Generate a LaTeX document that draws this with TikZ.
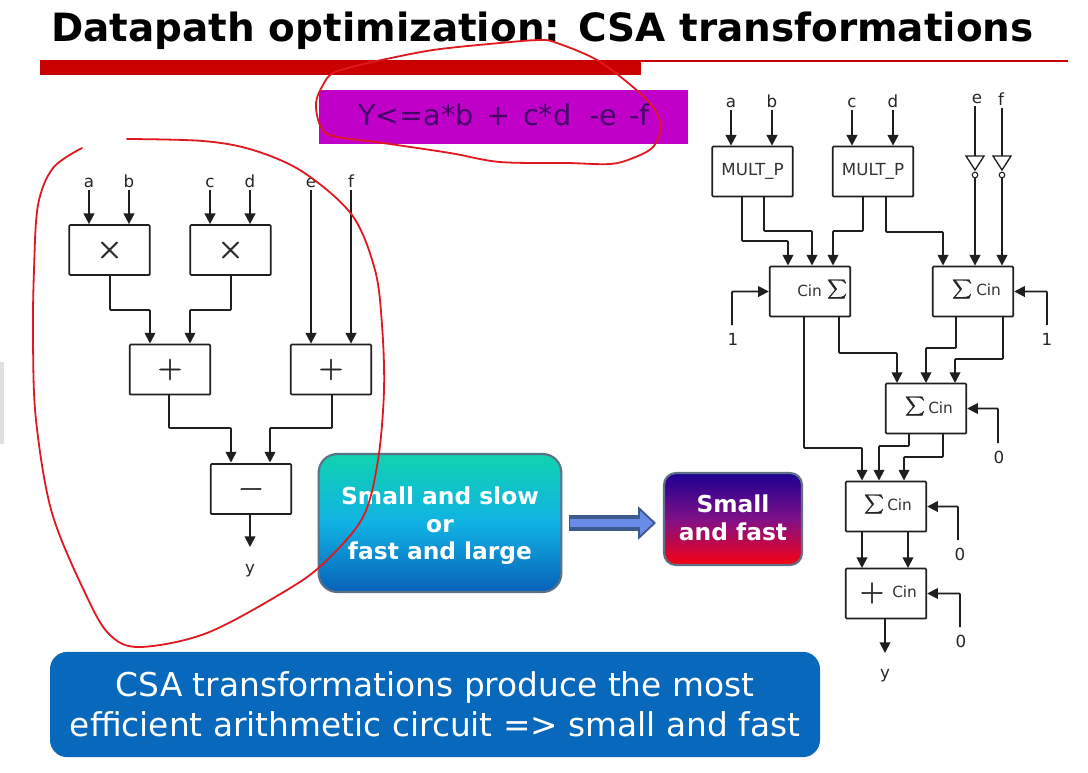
\documentclass[tikz,border=0pt]{standalone}
\usepackage{fontspec}
\setmainfont{DejaVu Sans}
\usetikzlibrary{arrows.meta,calc}
\definecolor{barred}{HTML}{C80000}
\definecolor{inkred}{HTML}{E01820}
\definecolor{mag}{HTML}{C000C8}
\definecolor{magtxt}{HTML}{45006A}
\definecolor{blueb}{HTML}{0868BC}
\definecolor{edgeg}{HTML}{5E7085}
\definecolor{aT}{HTML}{10D2B0}
\definecolor{aM}{HTML}{10B2E4}
\definecolor{aB}{HTML}{0860B8}
\definecolor{bT}{HTML}{1C0090}
\definecolor{bM}{HTML}{801088}
\definecolor{bB}{HTML}{F80010}
\definecolor{arD}{HTML}{3C5A8C}
\definecolor{arL}{HTML}{6A8CE8}
\newcommand{\heavy}[2]{\special{pdf:code 2 Tr #1 w}#2\special{pdf:code 0 Tr 1 w}}
\tikzset{
 wire/.style={draw=black!88,line width=1.3pt,rounded corners=0.6pt},
 arr/.style={wire,-{Triangle[length=8pt,width=8pt]}},
 blk/.style={draw=black!88,line width=1.3pt,fill=white,rounded corners=0.8pt,minimum width=60.5pt,minimum height=37.5pt,inner sep=0pt},
 sm/.style={font=\fontsize{11.5}{12}\selectfont,text=black!80,inner sep=0pt},
 multx/.style={font=\fontsize{12.5}{12}\selectfont,text=black!80,inner sep=0pt},
 lbl/.style={font=\fontsize{12.5}{12}\selectfont,text=black!85,inner sep=0pt,text height=9pt,text depth=0pt},
 sigma/.style={inner sep=0pt,font=\fontsize{10}{12}\selectfont,text=black!85},
 op/.style={inner sep=0pt,font=\fontsize{23}{24}\selectfont,text=black!85},
 ink/.style={draw=inkred,line width=1.35pt,line cap=round,line join=round},
 bt/.style={text=white,font=\bfseries\fontsize{17.5}{20.6}\selectfont,align=center,inner sep=0pt},
 inv/.style={draw=black!88,line width=1pt,fill=white},
 bubble/.style={circle,draw=black!88,line width=0.8pt,fill=white,inner sep=0pt,minimum size=4.2pt},
 lab/.style={shorten <=2pt}
}
\begin{document}
\begin{tikzpicture}[x=0.75pt,y=-0.75pt]
\useasboundingbox (0,0) rectangle (1088,772);
\fill[white] (0,0) rectangle (1088,772);
\fill[black!12] (0,362) rectangle (4,444);
% title
\node[inner sep=0pt,font=\bfseries\fontsize{29.2}{32}\selectfont] (title) at (542.5,31) {Datapath optimization: CSA transformations};
\coordinate (linestart) at (640,61);
\coordinate (lineend) at (1068,61);
\draw[barred,line width=0.8pt] (linestart) -- (lineend);
\fill[barred] (40,60) rectangle (641,75);
% formula
\node[fill=mag,inner sep=0pt,minimum width=276.75pt,minimum height=40.5pt] (formula) at (503.5,117) {};
\node[inner sep=0pt,text=magtxt,font=\fontsize{21.5}{24}\selectfont,anchor=base] at (504,125) {Y<=a*b\hspace{0.12em} + \hspace{0.12em}c*d\hspace{0.3em} -e\hspace{0.1em} -f};
% LEFT
\foreach \n/\x/\y in {mA/109.5/250,mB/230.5/250,addA/170/369.5,addB/331/369.5,sub/251/489}{
 \node[blk] (\n) at (\x,\y) {};
}
\node[op] at (mA) {\heavy{0.45}{$\times$}};
\node[op] at (mB) {\heavy{0.45}{$\times$}};
\node[op] at (addA) {\heavy{0.45}{$+$}};
\node[op] at (addB) {\heavy{0.45}{$+$}};
\node[op] at (sub) {\heavy{0.45}{$-$}};
\foreach \n/\x/\t in {la/89/a,lb/129/b,lc/210/c,ld/250/d,le/311/e,lf/351/f}{
 \node[lbl] (\n) at (\x,181) {\t};
}
\draw[arr,lab] (la.south) -- (la.south|-mA.north);
\draw[arr,lab] (lb.south) -- (lb.south|-mA.north);
\draw[arr,lab] (lc.south) -- (lc.south|-mB.north);
\draw[arr,lab] (ld.south) -- (ld.south|-mB.north);
\draw[arr,lab] (le.south) -- (le.south|-addB.north);
\draw[arr,lab] (lf.south) -- (lf.south|-addB.north);
\draw[arr] (110,276) |- (150,310) -- (150,343.5);
\draw[arr] (231,276) |- (190,310) -- (190,343.5);
\draw[arr] (169,395) |- (231,428) -- (231,462.5);
\draw[arr] (332,395) |- (270,428) -- (270,462.5);
\node[lbl] (ly) at (250,567) {y};
\draw[arr] (250,515) -- (250,547);
% RIGHT
\foreach \n/\x/\y in {pA/752.5/171.5,pB/873/171.5,sA/810/291.5,sB/973/291.5,sC/926/408.5,sD/886/506.5,sE/886/593.5}{
 \node[blk] (\n) at (\x,\y) {};
}
\node[multx] at (pA) {MULT\_P};
\node[multx] at (pB) {MULT\_P};
\node[sm,anchor=west] at (797,291) {Cin};
\node[sigma] at (837,289) {\heavy{0.25}{$\displaystyle\sum$}};
\node[sigma] at (962,289) {\heavy{0.25}{$\displaystyle\sum$}};
\node[sm,anchor=west] at (976,290) {Cin};
\node[sigma] at (915,406) {\heavy{0.25}{$\displaystyle\sum$}};
\node[sm,anchor=west] at (928,408) {Cin};
\node[sigma] at (874,504) {\heavy{0.25}{$\displaystyle\sum$}};
\node[sm,anchor=west] at (887,505) {Cin};
\node[op] at (872,593) {\heavy{0.45}{$+$}};
\node[sm,anchor=west] at (892,592) {Cin};
\foreach \n/\x/\y/\t in {ra/731/101/a,rb/772/101/b,rc/852/101/c,rd/893/101/d,re/977/97/e,rf/1001/99/f}{
 \node[lbl] (\n) at (\x,\y) {\t};
}
\draw[arr,lab] (ra.south) -- (ra.south|-pA.north);
\draw[arr,lab] (rb.south) -- (rb.south|-pA.north);
\draw[arr,lab] (rc.south) -- (rc.south|-pB.north);
\draw[arr,lab] (rd.south) -- (rd.south|-pB.north);
% inverters
\coordinate (iA) at (975,156);
\coordinate (iB) at (1002,156);
\draw[inv] (966,156) -- (984,156) -- (975,170) -- cycle;
\draw[inv] (993,156) -- (1011,156) -- (1002,170) -- cycle;
\node[bubble] (bA) at (975,175) {};
\node[bubble] (bB) at (1002,175) {};
\draw[wire] (iA|-re.south) ++(0,3) -- (iA);
\draw[wire] (iB|-rf.south) ++(0,3) -- (iB);
\draw[arr] (bA) -- (bA|-sB.north);
\draw[arr] (bB) -- (bB|-sB.north);
\draw[arr] (742,197) |- (788,241) -- (788,265.5);
\draw[arr] (764,197) |- (812,231) -- (812,265.5);
\draw[arr] (863,197) |- (833,231) -- (833,265.5);
\draw[arr] (886,197) |- (943,232) -- (943,265.5);
\coordinate (one1) at (732,325);
\coordinate (one2) at (1047,325);
\node[lbl] at (733,339) {1};
\node[lbl] at (1047,339) {1};
\draw[arr] (one1) |- (sA.west);
\draw[arr] (one2) |- (sB.east);
\draw[arr] (804,317) |- (862,448) -- (862,480.5);
\draw[arr] (839,317) |- (897,353) -- (897,383);
\draw[arr] (956,317) |- (926,348) -- (926,383);
\draw[arr] (1003,317) |- (955,359) -- (955,383);
\draw[arr] (909,434) |- (879,446) -- (879,480.5);
\draw[arr] (943,434) |- (904,457) -- (904,480.5);
\draw[arr] (862,532) -- (862,568);
\draw[arr] (908,532) -- (908,568);
\draw[arr] (885,619) -- (885,653);
\node[lbl] at (885,672) {y};
\coordinate (z1) at (998,443);
\coordinate (z2) at (958,540);
\coordinate (z3) at (960,627);
\draw[arr] (z1) |- (sC.east);
\draw[arr] (z2) |- (sD.east);
\draw[arr] (z3) |- (sE.east);
\node[lbl] at (999,457) {0};
\node[lbl] at (960,554) {0};
\node[lbl] at (961,641) {0};
% gradient boxes
\node[draw=edgeg,line width=1.6pt,rounded corners=14pt,top color=aT,bottom color=aB,middle color=aM,minimum width=182pt,minimum height=103.5pt,inner sep=0pt] (bx1) at (440,523) {};
\node[bt] at (440,526) {Small and slow\\or\\fast and large};
\node[draw=edgeg,line width=1.6pt,rounded corners=9pt,top color=bT,bottom color=bB,middle color=bM,minimum width=103.5pt,minimum height=69pt,inner sep=0pt] (bx2) at (733,519) {};
\node[bt] at (733,518) {Small\\and fast};
\draw[draw=arD,line width=12.5pt,shorten <=5.2pt,shorten >=5.2pt,-{Triangle[length=13.5pt,width=25pt,fill=arL,color=arD,line width=1.4pt]}] (bx1.east) -- (bx1.east-|bx2.west);
\draw[draw=arL,line width=6pt,shorten <=5.8pt,shorten >=14pt] (bx1.east) -- (bx1.east-|bx2.west);
% bottom
\node[fill=blueb,rounded corners=13pt,minimum width=577.5pt,minimum height=79pt,inner sep=0pt] (bot) at (435,704.5) {};
\node[text=white,font=\fontsize{24.6}{29.8}\selectfont,align=center,inner sep=0pt] at (435,704.5) {CSA transformations produce the most\\efficient arithmetic circuit => small and fast};
% ink
\draw[ink] plot[smooth,tension=0.55] coordinates {(82,148) (53,168) (38,205) (34,270) (33,340) (36,420) (52,513) (87,597) (110,635) (140,647) (207,633) (287,590) (325,562) (363,517) (378,460) (384,390) (382,325) (375,270) (352,215) (303,172) (253,150) (203,141) (127,139)};
\draw[ink] plot[smooth,tension=0.55] coordinates {(377,61) (433,50) (500,43) (540,40) (557,43) (597,60) (633,87) (653,107) (661,127) (653,147) (633,158) (610,164) (567,163) (500,162) (450,153) (383,143) (333,136) (320,125) (316,103) (323,85) (335,72) (377,61)};
\end{tikzpicture}
\end{document}
